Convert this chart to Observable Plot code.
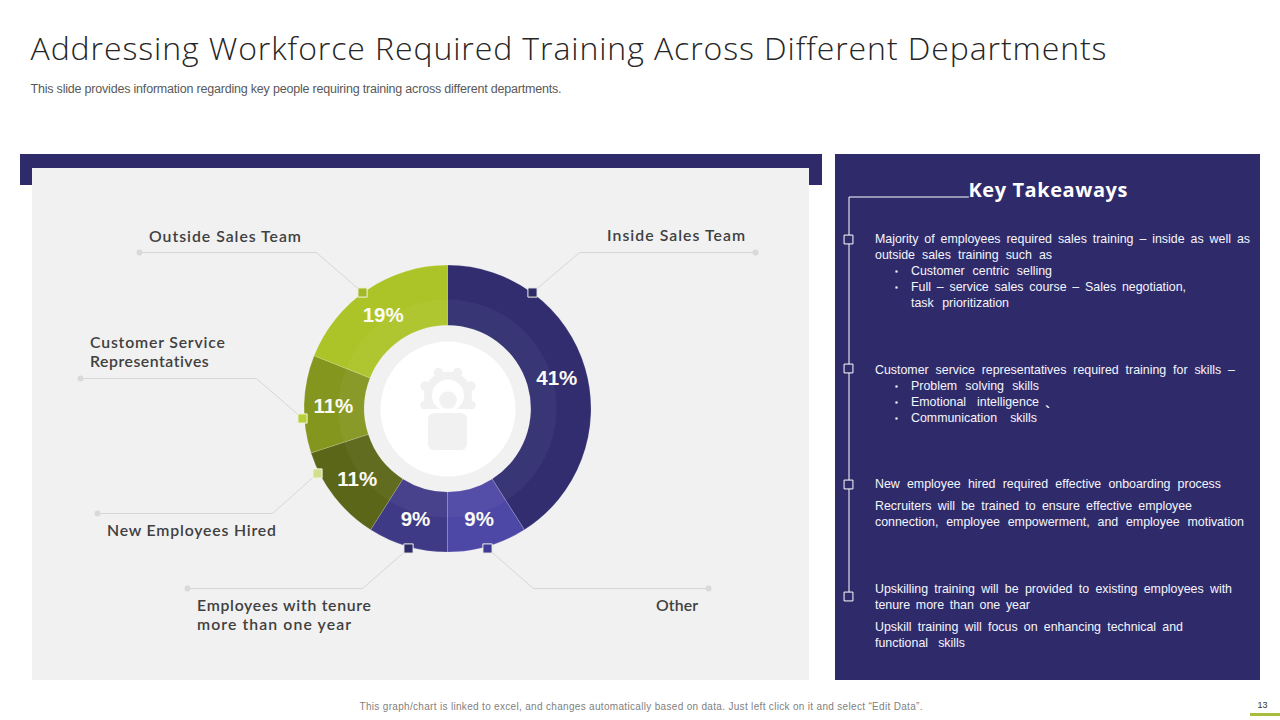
<!DOCTYPE html>
<html>
<head>
<meta charset="utf-8">
<script src="https://cdn.jsdelivr.net/npm/d3@7"></script>
<script src="https://cdn.jsdelivr.net/npm/@observablehq/plot@0.6"></script>
<style>
html,body{margin:0;padding:0;background:#fff;overflow:hidden}
svg{display:block}
</style>
</head>
<body>
<script>
// ---- chart values
const departments = ["Inside Sales Team", "Other", "Employees with tenure more than one year", "New Employees Hired", "Customer Service Representatives", "Outside Sales Team"];
const shares = [41, 9, 9, 11, 11, 19];
const sliceColors = ["#312d6f", "#4d47a6", "#3f3a86", "#5b6618", "#85961f", "#adc428"];

// ---- text
const titleText = "Addressing Workforce Required Training Across Different Departments";
const subtitleText = "This slide provides information regarding key people requiring training across different departments.";
const footerText = "This graph/chart is linked to excel, and changes automatically based on data. Just left click on it and select \u201cEdit Data\u201d.";
const panelTitle = "Key Takeaways";
const pageNumber = "13";
const labelLines = ["Outside Sales Team", "Inside Sales Team", "Customer Service\nRepresentatives", "New Employees Hired", "Employees with tenure\nmore than one year", "Other"];
const takeawayLines = [
  "Majority of employees required sales training \u2013 inside as well as",
  "outside sales training such as",
  "Customer centric selling",
  "Full \u2013 service sales course \u2013 Sales negotiation,",
  "task prioritization",
  "Customer service representatives required training for skills \u2013",
  "Problem solving skills",
  "Emotional intelligence",
  "Communication skills",
  "New employee hired required effective onboarding process",
  "Recruiters will be trained to ensure effective employee",
  "connection, employee empowerment, and employee motivation",
  "Upskilling training will be provided to existing employees with",
  "tenure more than one year",
  "Upskill training will focus on enhancing technical and",
  "functional skills"
];

// ---- layout (page pixels)
const navy = "#2f2b6b", panelGray = "#f1f1f2", leader = "#d6d6d6";
const center = {x: 447.5, y: 408.6};
const radii = {outer: 143.5, band: 109, inner: 83.3, white: 67.5, label: 114};
const labelBoxes = [[148.5,[300.5],235],[606.5,[744.5],234],[89.5,[224.5,208.5],350.5],[106.5,[275.5],529],[196.5,[370.5,350.5],613.5],[655.5,[697.5],604]];
const takeawayBoxes = [[874.5,1249.5,239],[874.5,1051.5,255],[910.5,1051.5,271],[910.5,1185.5,287],[910.5,1008.5,303],[874.5,1234.5,370],[910.5,1038.5,386],[910.5,1038.5,402],[910.5,1036.5,418],[874.5,1220.5,484],[874.5,1191.5,506],[874.5,1243.5,522],[874.5,1231.5,589],[874.5,1029.5,605],[874.5,1182.5,627],[874.5,964.5,643]];
const bulletYs = [271, 287, 386, 402, 418];
const timelineYs = [239, 368, 484, 596];
const panels = [
  {x1: 20, x2: 822, y1: 154, y2: 185, fill: navy},
  {x1: 32, x2: 809, y1: 168, y2: 680, fill: panelGray},
  {x1: 835, x2: 1260, y1: 154, y2: 680, fill: navy},
  {x1: 1250, x2: 1280, y1: 713, y2: 716, fill: "#a9bc3d"}
];
const leaders = [
  {id: 0, pts: [[532,292],[579,252],[755,252]], fill: navy},
  {id: 1, pts: [[487,548],[533,588],[708,588]], fill: "#3f3a95"},
  {id: 2, pts: [[408,548],[362,588],[187,588]], fill: navy},
  {id: 3, pts: [[317,473],[272,513],[97,513]], fill: "#d3df8f"},
  {id: 4, pts: [[302,418],[256,378],[80,378]], fill: "#b9ce3c"},
  {id: 5, pts: [[362,292],[316,252],[139,252]], fill: "#a3b82b"}
];

// ---- derived tables
const pie = d3.pie().sort(null).value(d => d.share)(departments.map((name, i) => ({name, share: shares[i], fill: sliceColors[i]})));
const slices = pie.map(p => ({...p.data, startAngle: p.startAngle, endAngle: p.endAngle, mid: (p.startAngle + p.endAngle) / 2}));
const labelRows = labelLines.map((text, i) => ({text, x: labelBoxes[i][0], ends: labelBoxes[i][1], y: labelBoxes[i][2]}));
const takeawayRows = takeawayLines.map((text, i) => ({text, x: takeawayBoxes[i][0], end: takeawayBoxes[i][1], y: takeawayBoxes[i][2]}));
const leaderPts = leaders.flatMap(l => l.pts.map(([x, y]) => ({id: l.id, x, y})));
const gearTeeth = d3.range(8).map(i => {
  const a = (i + 0.5) * Math.PI / 4;
  return {x: center.x + 25 * Math.sin(a), y: 395 - 25 * Math.cos(a)};
});

// Custom mark: annular sectors drawn through the plot's own x/y scales.
function arcRender(inner, outer, attrs) {
  return (index, scales, values) => {
    const g = d3.create("svg:g");
    const arc = d3.arc();
    for (const i of index) {
      const d = slices[i];
      g.append("path")
        .attr("transform", `translate(${values.x[i]},${values.y[i]})`)
        .attr("d", arc({innerRadius: inner, outerRadius: outer, startAngle: d.startAngle, endAngle: d.endAngle}))
        .attr("fill", attrs.fill ?? d.fill)
        .attr("fill-opacity", attrs.opacity ?? 1)
        .attr("stroke", attrs.stroke ?? "none")
        .attr("stroke-width", attrs.strokeWidth ?? 0)
        .attr("stroke-opacity", attrs.strokeOpacity ?? 1);
    }
    return g.node();
  };
}

const sans = "Liberation Sans, Arial, sans-serif";
const geo = "Open Sans, Lato, sans-serif";
const pct = slices.map(d => ({
  text: d.share + "%",
  x: center.x + radii.label * Math.sin(d.mid) - 0.7,
  y: center.y - radii.label * Math.cos(d.mid) + 0.8
}));

const chart = Plot.plot({
  width: 1280, height: 720, margin: 0,
  style: {background: "#fff", overflow: "visible"},
  x: {domain: [0, 1280], range: [0, 1280], axis: null},
  y: {domain: [0, 720], range: [0, 720], axis: null},
  color: {type: "identity"},
  marks: [
    Plot.rect(panels, {x1: "x1", x2: "x2", y1: "y1", y2: "y2", fill: "fill"}),
    // leader lines
    Plot.line(leaderPts, {x: "x", y: "y", z: "id", stroke: leader, strokeWidth: 1}),
    Plot.dot(leaders, {x: d => d.pts[2][0], y: d => d.pts[2][1], r: 3, fill: "#d9d9d9"}),
    // donut
    Plot.dot(slices, {x: () => center.x, y: () => center.y, render: arcRender(radii.inner, radii.outer, {stroke: "#fff", strokeWidth: 0.5, strokeOpacity: 0.3})}),
    Plot.dot(slices, {x: () => center.x, y: () => center.y, render: arcRender(radii.inner, radii.band, {fill: "#fff", opacity: 0.045})}),
    Plot.dot([center], {x: "x", y: "y", r: radii.white, fill: "#fff"}),
    // centre icon
    Plot.dot([center], {x: "x", y: () => 395, r: 20, fill: "none", stroke: panelGray, strokeWidth: 8}),
    Plot.dot(gearTeeth, {x: "x", y: "y", r: 4.6, fill: panelGray}),
    Plot.rect([{x1: 422, x2: 473, y1: 409, y2: 455}], {x1: "x1", x2: "x2", y1: "y1", y2: "y2", fill: "#fff"}),
    Plot.dot([center], {x: "x", y: () => 399.5, r: 8.8, fill: panelGray}),
    Plot.rect([{x1: 428, x2: 467, y1: 413, y2: 450}], {x1: "x1", x2: "x2", y1: "y1", y2: "y2", fill: panelGray, rx: 6}),
    // markers
    Plot.dot(leaders, {x: d => d.pts[0][0], y: d => d.pts[0][1], symbol: "square", r: 5.2, fill: "fill", stroke: "#f4f6e4", strokeWidth: 1}),
    // percentages
    Plot.text(pct, {x: "x", y: "y", text: "text", fontFamily: sans, fontWeight: 700, fontSize: 20.5, fill: "#fbfbf5", textAnchor: "middle", lineAnchor: "middle"}),
    // callout labels
    Plot.text(labelRows, {x: "x", y: "y", text: "text", className: "fit-labels", fontFamily: "Lato, sans-serif", fontWeight: 600, fontSize: 15.8, lineHeight: 19 / 15.8, fill: "#404040", textAnchor: "start", lineAnchor: "middle"}),
    // header, footer
    Plot.text([{text: titleText, x: 30, end: 1106, y: 49}], {x: "x", y: "y", text: "text", className: "fit-letter", fontFamily: geo, fontWeight: 300, fontSize: 32, fill: "#262626", textAnchor: "start", lineAnchor: "middle"}),
    Plot.text([{text: subtitleText, x: 30, end: 561, y: 88.5}], {x: "x", y: "y", text: "text", className: "fit-letter", fontFamily: sans, fontSize: 12.5, fill: "#595959", textAnchor: "start", lineAnchor: "middle"}),
    Plot.text([{text: footerText, x: 359, end: 922, y: 706.5}], {x: "x", y: "y", text: "text", className: "fit-letter", fontFamily: sans, fontSize: 10, fill: "#7f7f7f", textAnchor: "start", lineAnchor: "middle"}),
    Plot.text([{text: pageNumber, x: 1262, y: 704.5}], {x: "x", y: "y", text: "text", fontFamily: sans, fontWeight: 400, fontSize: 9, fill: "#333", textAnchor: "middle", lineAnchor: "middle"}),
    // right panel
    Plot.line([[968, 196.5], [848.5, 196.5], [848.5, 591]], {x: d => d[0], y: d => d[1], stroke: "#fff", strokeWidth: 1}),
    Plot.dot(timelineYs, {x: () => 848, y: d => d, symbol: "square", r: 5, fill: navy, stroke: "#fff", strokeWidth: 1}),
    Plot.text([{text: panelTitle, x: 968, end: 1127, y: 190}], {x: "x", y: "y", text: "text", className: "fit-letter", fontFamily: geo, fontWeight: 700, fontSize: 20, fill: "#fff", textAnchor: "start", lineAnchor: "middle"}),
    Plot.text(takeawayRows, {x: "x", y: "y", text: "text", className: "fit-word", fontFamily: sans, fontSize: 12.4, fill: "#f5f5fb", textAnchor: "start", lineAnchor: "middle"}),
    Plot.dot(bulletYs, {x: () => 896, y: d => d, symbol: "square", r: 1.2, fill: "#fff"}),
    Plot.text([{text: "`", x: 1047, y: 412}], {x: "x", y: "y", text: "text", fontFamily: sans, fontWeight: 700, fontSize: 14, fill: "#fff", textAnchor: "middle", lineAnchor: "middle"})
  ]
});
document.body.appendChild(chart);

// Fit each line to the width it has in the slide (font metrics differ from the original).
const fitLetters = (el, text, width) => {
  el.style.letterSpacing = ((width - el.getComputedTextLength()) / (text.length - 1)) + "px";
};
chart.querySelectorAll("g.fit-word text").forEach((el, i) => {
  const r = takeawayRows[i];
  el.style.wordSpacing = ((r.end - r.x - el.getComputedTextLength()) / (r.text.split(" ").length - 1)) + "px";
});
chart.querySelectorAll("g.fit-labels text").forEach((el, i) => {
  const r = labelRows[i];
  const parts = r.text.split("\n");
  const spans = el.querySelectorAll("tspan");
  if (spans.length) spans.forEach((s, k) => fitLetters(s, parts[k], r.ends[k] - r.x));
  else fitLetters(el, r.text, r.ends[0] - r.x);
});
const letterGroups = chart.querySelectorAll("g.fit-letter");
[{text: titleText, x: 30, end: 1106},
 {text: subtitleText, x: 30, end: 561},
 {text: footerText, x: 359, end: 922},
 {text: panelTitle, x: 968, end: 1127}
].forEach((r, k) => fitLetters(letterGroups[k].querySelector("text"), r.text, r.end - r.x));
</script>
</body>
</html>
